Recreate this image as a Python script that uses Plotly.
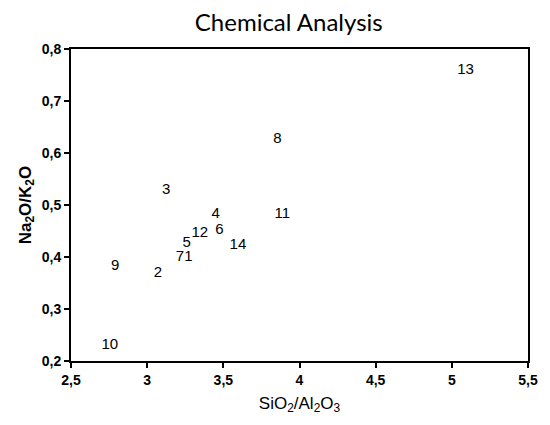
import plotly.graph_objects as go

labels = ["1", "2", "3", "4", "5", "6", "7", "8", "9", "10", "11", "12", "13", "14"]
sio2_al2o3 = [3.27, 3.07, 3.125, 3.45, 3.26, 3.475, 3.215, 3.855, 2.79, 2.755, 3.887, 3.346, 5.09, 3.596]
na2o_k2o = [0.399, 0.369, 0.529, 0.482, 0.426, 0.451, 0.399, 0.627, 0.383, 0.231, 0.483, 0.446, 0.760, 0.422]

x_ticks = [2.5, 3, 3.5, 4, 4.5, 5, 5.5]
x_ticktext = ["2,5", "3", "3,5", "4", "4,5", "5", "5,5"]
y_ticks = [0.2, 0.3, 0.4, 0.5, 0.6, 0.7, 0.8]
y_ticktext = ["0,2", "0,3", "0,4", "0,5", "0,6", "0,7", "0,8"]

fig = go.Figure()
fig.add_trace(go.Scatter(
    x=sio2_al2o3, y=na2o_k2o, text=labels, mode="text",
    textposition="middle center",
    textfont=dict(family="Liberation Sans", size=15, color="black"),
    showlegend=False, hoverinfo="skip",
))

axis_common = dict(
    showgrid=False, zeroline=False, showline=True, linecolor="black", linewidth=2,
    mirror=True, ticks="outside", ticklen=5, tickwidth=2, tickcolor="black",
    tickfont=dict(family="Liberation Sans", size=14, color="black", weight="bold"),
)

fig.update_layout(
    width=550, height=425,
    margin=dict(l=71, r=12, t=49, b=64),
    paper_bgcolor="white", plot_bgcolor="white",
    title=dict(text="Chemical Analysis", x=0.525, xanchor="center", y=0.948, yanchor="middle",
               font=dict(family="Lato", size=24, color="black")),
    xaxis=dict(range=[2.5, 5.5], tickvals=x_ticks, ticktext=x_ticktext,
               title=dict(text="SiO<sub>2</sub>/Al<sub>2</sub>O<sub>3</sub>", standoff=10,
                          font=dict(family="Liberation Sans", size=17, color="black")),
               **axis_common),
    yaxis=dict(range=[0.2, 0.8], tickvals=y_ticks, ticktext=y_ticktext,
               title=dict(text="Na<sub>2</sub>O/K<sub>2</sub>O", standoff=6,
                          font=dict(family="Liberation Sans", size=17, color="black", weight="bold")),
               **axis_common),
)

fig.write_html("out.html")
